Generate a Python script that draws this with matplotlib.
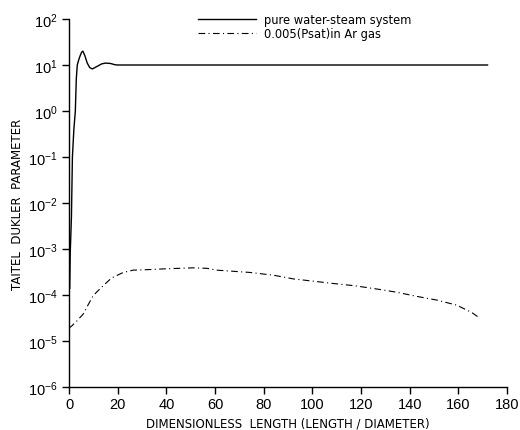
import matplotlib
matplotlib.use("Agg")
import matplotlib.pyplot as plt
from matplotlib.ticker import FixedLocator, NullLocator

plt.rcParams['font.family'] = ['Liberation Sans', 'DejaVu Sans']

# pure water-steam system
x_water = [0.3, 0.5, 1.0, 1.4, 2.0, 2.6, 3.0, 3.4, 4.0, 4.6, 5.2, 5.7, 6.5, 7.5, 8.5, 9.6, 11.5, 13.5, 15.0, 17.0, 19.0, 20.0, 172.0]
y_water = [1.4e-4, 8e-4, 5e-3, 0.1, 0.4, 1.0, 5.0, 10.0, 13.0, 16.0, 19.0, 20.0, 16.0, 11.0, 8.8, 8.2, 9.3, 10.6, 11.0, 10.8, 10.1, 10.0, 10.0]

# 0.005(Psat) in Ar gas
x_ar = [0.0, 1.2, 3.5, 5.9, 8.0, 10.0, 13.4, 17.5, 22.3, 26.4, 31.9, 40.0, 51.0, 56.6, 60.7, 66.2, 74.4, 84.0, 92.2, 100.4, 108.6, 117.5, 126.5, 134.7, 142.9, 151.1, 159.3, 165.5, 168.2]
log_ar = [-4.72, -4.67, -4.55, -4.41, -4.20, -4.01, -3.83, -3.63, -3.51, -3.46, -3.45, -3.43, -3.41, -3.42, -3.46, -3.48, -3.51, -3.57, -3.65, -3.70, -3.75, -3.80, -3.87, -3.94, -4.03, -4.11, -4.22, -4.38, -4.48]
y_ar = [10 ** v for v in log_ar]

x_ticks = [0, 20, 40, 60, 80, 100, 120, 140, 160, 180]
y_ticks = [1e-6, 1e-5, 1e-4, 1e-3, 1e-2, 1e-1, 1e0, 1e1, 1e2]
y_tick_labels = [r'$\mathregular{10^{-6}}$', r'$\mathregular{10^{-5}}$', r'$\mathregular{10^{-4}}$',
                 r'$\mathregular{10^{-3}}$', r'$\mathregular{10^{-2}}$', r'$\mathregular{10^{-1}}$',
                 r'$\mathregular{10^{0}}$', r'$\mathregular{10^{1}}$', r'$\mathregular{10^{2}}$']

fig = plt.figure(figsize=(5.2, 4.31), dpi=100)
ax = fig.add_axes([0.1327, 0.0998, 0.975 - 0.1327, 0.9536 - 0.0998])

ax.plot(x_water, y_water, color='black', lw=1.0, label='pure water-steam system')
ax.plot(x_ar, y_ar, color='black', lw=0.8, linestyle=(0, (6, 3, 1, 3)), label='0.005(Psat)in Ar gas')

ax.set_yscale('log')
ax.set_xlim(0, 180)
ax.set_ylim(1e-6, 1e2)
ax.xaxis.set_major_locator(FixedLocator(x_ticks))
ax.yaxis.set_major_locator(FixedLocator(y_ticks))
ax.yaxis.set_minor_locator(NullLocator())
ax.set_yticklabels(y_tick_labels)
ax.set_xticklabels([str(t) for t in x_ticks])

for s in ['top', 'right']:
    ax.spines[s].set_visible(False)
for s in ['left', 'bottom']:
    ax.spines[s].set_linewidth(1.0)
ax.tick_params(direction='out', length=5, width=1.0, labelsize=10.5)
ax.tick_params(axis='x', pad=2.5)
ax.tick_params(axis='y', pad=3)

lab_font = dict(family=['DejaVu Sans'], size=8.5)
ax.set_xlabel('DIMENSIONLESS  LENGTH (LENGTH / DIAMETER)', fontdict=lab_font, labelpad=4)
ax.set_ylabel('TAITEL  DUKLER  PARAMETER', fontdict=lab_font, labelpad=3)

leg = ax.legend(loc='upper left', bbox_to_anchor=(0.285, 1.03), frameon=False,
                prop={'family': ['DejaVu Sans'], 'size': 8.3},
                handlelength=5.0, handletextpad=0.7, labelspacing=0.1, borderaxespad=0)

fig.savefig('out.png', dpi=100)
